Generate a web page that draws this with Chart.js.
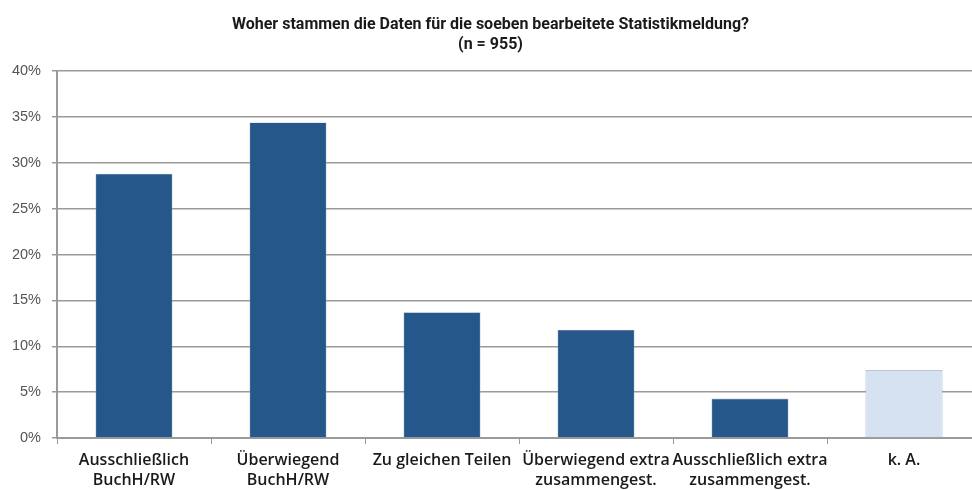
<!DOCTYPE html>
<html>
<head>
<meta charset="utf-8">
<script src="https://cdn.jsdelivr.net/npm/chart.js@4"></script>
<style>
  html, body { margin: 0; padding: 0; background: #fff; overflow: hidden; }
  /* the plot runs a little past the right edge in the original */
  #wrap { width: 981px; height: 490px; }
</style>
</head>
<body>
<div id="wrap"><canvas id="chart"></canvas></div>
<script>
// categories (multi-line labels)
const categories = [
    ['Ausschließlich', 'BuchH/RW'],
    ['Überwiegend', 'BuchH/RW'],
    'Zu gleichen Teilen',
    ['Überwiegend extra', 'zusammengest.'],
    ['Ausschließlich extra', 'zusammengest.'],
    'k. A.'
];
// share of answers in percent
const shares = [28.8, 34.4, 13.7, 11.8, 4.3, 7.4];
const barColors = ['#26578A', '#26578A', '#26578A', '#26578A', '#26578A', '#D6E1F1'];
const titleLines = ['Woher stammen die Daten für die soeben bearbeitete Statistikmeldung?', '(n = 955)'];

const ctx = document.getElementById('chart').getContext('2d');

new Chart(ctx, {
    type: 'bar',
    data: {
        labels: categories,
        datasets: [{
            data: shares,
            backgroundColor: barColors,
            borderColor: '#8FAACB',
            borderWidth: 0.6,
            barPercentage: 0.5,
            categoryPercentage: 1.0
        }]
    },
    options: {
        responsive: true,
        maintainAspectRatio: false,
        animation: false,
        layout: { padding: 0 },
        plugins: {
            legend: { display: false },
            tooltip: { enabled: false },
            title: {
                display: true,
                text: titleLines,
                color: '#1a1a1a',
                font: { family: "Roboto, sans-serif", size: 16, weight: 'bold', lineHeight: 1.25 },
                padding: { top: 15, bottom: 16 }
            }
        },
        scales: {
            x: {
                afterFit: (scale) => { scale.height = 52; },
                grid: {
                    offset: true,
                    drawOnChartArea: false,
                    color: '#9a9a9a',
                    tickLength: 6
                },
                border: { color: '#9a9a9a', width: 2 },
                ticks: {
                    color: '#1a1a1a',
                    maxRotation: 0,
                    autoSkip: false,
                    padding: 6,
                    font: { family: "'Open Sans', sans-serif", size: 16, weight: '600', lineHeight: 1.25 }
                }
            },
            y: {
                min: 0,
                max: 40,
                afterFit: (scale) => { scale.width = 57; },
                ticks: {
                    stepSize: 5,
                    color: '#555555',
                    padding: 11,
                    font: { family: "'Liberation Sans', sans-serif", size: 14.5 },
                    callback: (v) => v + '%'
                },
                grid: {
                    color: '#9a9a9a',
                    lineWidth: 1.5,
                    tickLength: 5
                },
                border: { color: '#9a9a9a', width: 2 }
            }
        }
    }
});
</script>
</body>
</html>
